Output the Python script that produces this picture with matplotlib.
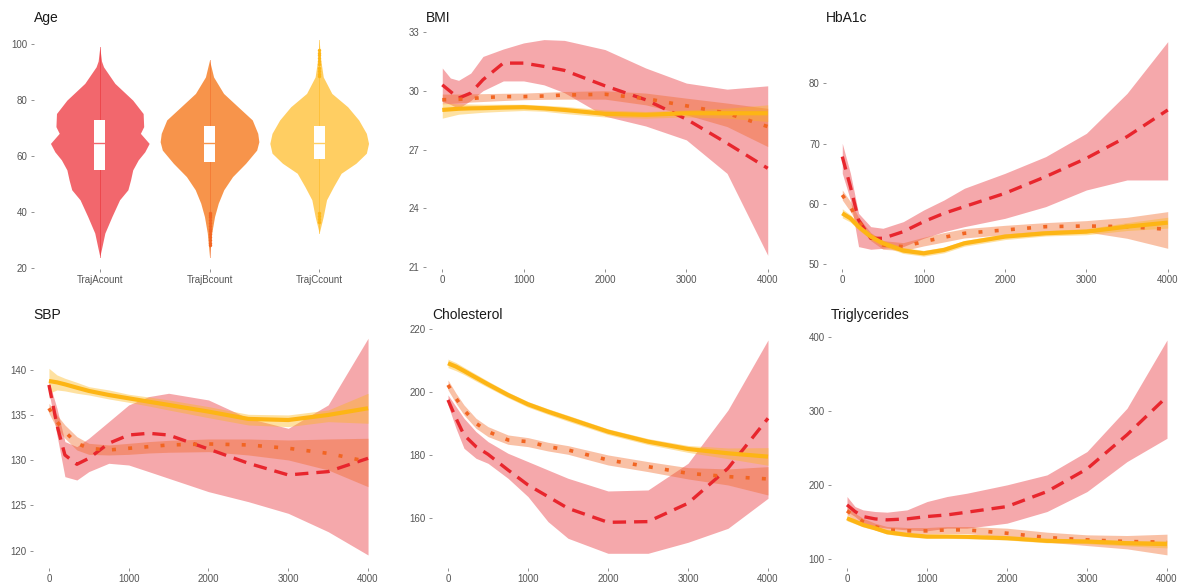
import matplotlib.pyplot as plt
import numpy as np

plt.rcParams['font.family'] = ['Liberation Sans', 'DejaVu Sans']

RED, ORANGE, YELLOW = '#E8262D', '#F26522', '#FDB515'
VIOLIN_FILL = ['#F2676D', '#F7944B', '#FFCE62']

# ---- Age violins ----
groups = ['TrajAcount', 'TrajBcount', 'TrajCcount']

age_a_y = [99.0, 94, 91.9, 86.0, 80.0, 75.2, 70.5, 68.1, 64.5, 61.5, 58.6, 55.0, 51.4, 47.9, 44.3, 38.3, 32.4, 27.6, 24.0]
age_a_w = [0, 0.015, 0.034, 0.137, 0.30, 0.395, 0.40, 0.37, 0.45, 0.41, 0.35, 0.30, 0.28, 0.256, 0.18, 0.11, 0.046, 0.02, 0]
age_b_y = [94.3, 88.3, 82.4, 77.6, 72.9, 68.1, 65.1, 62.1, 57.4, 52.6, 47.9, 43.1, 38.3, 32.4, 24.0]
age_b_w = [0, 0.037, 0.128, 0.26, 0.39, 0.44, 0.45, 0.43, 0.33, 0.21, 0.13, 0.08, 0.046, 0.02, 0]
age_c_y = [101.4, 95, 88.3, 82.4, 77.6, 72.9, 68.1, 64.5, 61.0, 57.4, 53.8, 49.0, 44.3, 38.3, 32.4]
age_c_w = [0, 0.012, 0.037, 0.115, 0.26, 0.36, 0.43, 0.45, 0.43, 0.335, 0.2, 0.13, 0.067, 0.037, 0]

age_q1 = [55.0, 58.0, 58.8]
age_med = [64.5, 64.8, 64.8]
age_q3 = [72.9, 70.7, 70.7]
age_out_b = [28, 29, 30, 31, 32, 33, 34, 35, 36, 37, 38, 39, 39.5]
age_out_c = [36.5, 37.5, 38.5, 39.5, 88.5, 89.5, 90.5, 91.5, 93, 94, 95, 96, 97, 98]

# ---- smooth trajectories ----
days = [0, 100, 200, 350, 500, 750, 1000, 1250, 1500, 2000, 2500, 3000, 3500, 4000]

bmi_a = [30.30, 29.96, 29.62, 29.88, 30.56, 31.41, 31.41, 31.24, 31.04, 30.25, 29.54, 28.55, 27.32, 26.04]
bmi_a_hi = [31.16, 30.65, 30.53, 30.90, 31.75, 32.13, 32.44, 32.61, 32.57, 32.10, 31.16, 30.39, 30.08, 30.25]
bmi_a_lo = [29.45, 29.3, 29.1, 29.5, 30.0, 30.5, 30.5, 30.3, 29.9, 28.7, 28.2, 27.49, 25.78, 21.6]
bmi_b = [29.54, 29.55, 29.56, 29.6, 29.65, 29.7, 29.7, 29.73, 29.78, 29.82, 29.6, 29.23, 28.85, 28.17]
bmi_b_hi = [29.83, 29.83, 29.83, 29.84, 29.85, 29.87, 29.88, 29.92, 29.96, 30.0, 29.88, 29.62, 29.37, 29.10]
bmi_b_lo = [29.33, 29.35, 29.38, 29.42, 29.45, 29.5, 29.54, 29.56, 29.57, 29.57, 29.28, 28.77, 28.17, 27.15]
bmi_c = [29.02, 29.05, 29.08, 29.1, 29.11, 29.14, 29.16, 29.1, 29.02, 28.82, 28.77, 28.85, 28.85, 28.85]
bmi_c_hi = [29.37, 29.35, 29.33, 29.32, 29.31, 29.31, 29.31, 29.26, 29.2, 29.02, 28.94, 29.02, 29.11, 29.28]
bmi_c_lo = [28.6, 28.7, 28.8, 28.85, 28.9, 28.95, 28.99, 28.95, 28.84, 28.66, 28.6, 28.66, 28.6, 28.43]

hba_a = [67.85, 62.87, 57.35, 54.31, 54.31, 55.41, 57.07, 58.45, 59.56, 61.77, 64.53, 67.57, 71.16, 75.58]
hba_a_hi = [70.06, 65.08, 58.45, 56.24, 55.97, 57.07, 59.0, 60.66, 62.6, 65.08, 67.85, 71.71, 78.34, 86.91]
hba_a_lo = [65.08, 60.66, 52.93, 52.49, 52.65, 52.93, 54.31, 55.41, 56.24, 57.62, 59.56, 62.32, 63.98, 63.98]
hba_b = [61.49, 59.56, 57.07, 54.59, 53.2, 52.93, 53.76, 54.48, 55.14, 55.69, 56.24, 56.35, 56.24, 55.8]
hba_b_hi = [62.32, 60.39, 57.79, 55.25, 53.92, 53.59, 54.48, 55.25, 55.91, 56.46, 56.91, 57.24, 57.79, 58.73]
hba_b_lo = [60.66, 58.73, 56.35, 53.92, 52.49, 52.27, 53.04, 53.7, 54.36, 54.92, 55.47, 55.36, 54.31, 52.65]
hba_c = [58.45, 57.62, 56.24, 54.59, 53.48, 52.27, 51.82, 52.38, 53.48, 54.59, 55.14, 55.41, 56.24, 56.91]
hba_c_hi = [59.2, 58.2, 56.8, 55.1, 54.0, 52.8, 52.3, 52.85, 53.95, 55.05, 55.6, 55.9, 56.9, 57.8]
hba_c_lo = [57.7, 57.0, 55.7, 54.1, 53.0, 51.8, 51.35, 51.9, 53.0, 54.1, 54.7, 54.9, 55.6, 56.0]

sbp_a = [138.34, 133.91, 130.59, 129.56, 130.22, 131.88, 132.80, 132.99, 132.80, 131.25, 129.67, 128.38, 128.75, 130.22]
sbp_a_hi = [138.71, 135.76, 132.07, 131.51, 132.44, 134.28, 136.13, 137.05, 137.42, 136.68, 134.65, 133.54, 136.13, 143.51]
sbp_a_lo = [137.60, 132.80, 128.19, 127.82, 128.75, 129.67, 129.48, 128.75, 128.01, 126.53, 125.42, 124.13, 122.10, 119.52]
sbp_b = [135.76, 134.28, 133.17, 131.88, 131.33, 131.14, 131.33, 131.51, 131.70, 131.81, 131.70, 131.33, 130.77, 129.85]
sbp_b_hi = [136.31, 135.02, 133.91, 132.62, 131.88, 131.70, 131.88, 132.07, 132.21, 132.36, 132.36, 132.25, 132.36, 132.44]
sbp_b_lo = [135.20, 133.54, 132.44, 131.14, 130.66, 130.59, 130.66, 130.81, 130.89, 130.96, 130.59, 130.04, 128.93, 127.08]
sbp_c = [138.78, 138.63, 138.41, 138.04, 137.68, 137.23, 136.86, 136.49, 136.13, 135.39, 134.58, 134.46, 135.02, 135.76]
sbp_c_hi = [140.18, 139.45, 139.08, 138.63, 138.15, 137.79, 137.31, 137.01, 136.68, 135.94, 135.09, 135.02, 135.57, 137.42]
sbp_c_lo = [137.42, 137.79, 137.68, 137.42, 137.23, 136.79, 136.42, 136.01, 135.57, 134.72, 133.91, 133.73, 134.28, 134.10]

chol_a = [197.5, 191.66, 186.35, 182.63, 180.19, 175.2, 170.42, 166.71, 162.99, 158.53, 158.75, 164.59, 175.73, 191.66]
chol_a_hi = [199.09, 195.37, 191.66, 187.41, 184.23, 180.51, 177.86, 175.2, 172.55, 168.51, 168.83, 177.32, 194.31, 216.6]
chol_a_lo = [195.9, 188.47, 182.1, 178.92, 177.32, 172.55, 166.71, 158.75, 153.44, 148.66, 148.66, 152.17, 156.62, 166.18]
chol_b = [202.27, 198.03, 194.31, 190.07, 187.41, 184.76, 184.23, 182.63, 181.57, 178.39, 176.26, 174.14, 173.08, 172.34]
chol_b_hi = [203.86, 199.62, 195.9, 191.66, 189.0, 186.35, 185.5, 184.01, 182.95, 179.98, 177.86, 175.94, 175.52, 176.26]
chol_b_lo = [200.68, 196.43, 192.72, 188.47, 185.82, 183.38, 182.63, 181.25, 180.19, 176.79, 174.67, 172.34, 170.42, 167.24]
chol_c = [209.17, 208.11, 206.73, 204.6, 202.48, 199.09, 196.11, 193.79, 191.66, 187.41, 184.23, 181.89, 180.51, 179.45]
chol_c_hi = [210.5, 209.4, 207.9, 205.7, 203.5, 200.0, 197.0, 194.7, 192.6, 188.3, 185.2, 183.0, 182.2, 182.3]
chol_c_lo = [207.8, 206.8, 205.6, 203.5, 201.5, 198.2, 195.2, 192.9, 190.7, 186.5, 183.3, 180.8, 178.8, 176.7]

trig_a = [173.1, 164.1, 157.3, 154.1, 152.8, 154.1, 157.3, 159.5, 163.2, 170.8, 191.1, 221.8, 268.0, 319.7]
trig_a_hi = [184.4, 170.8, 166.3, 164.1, 163.2, 166.3, 177.6, 184.4, 188.9, 200.2, 213.7, 245.3, 303.9, 396.4]
trig_a_lo = [164.1, 157.3, 148.3, 143.8, 141.5, 139.2, 137.9, 141.5, 141.5, 148.3, 164.1, 191.1, 231.7, 263.3]
trig_b = [165.0, 157.3, 150.5, 143.8, 139.2, 137.9, 137.9, 139.2, 139.2, 134.7, 128.9, 125.7, 123.5, 122.6]
trig_b_hi = [169.5, 161.8, 155.0, 148.3, 143.8, 142.4, 142.4, 143.8, 143.8, 141.5, 136.1, 132.5, 131.6, 133.4]
trig_b_lo = [159.6, 152.8, 146.0, 139.2, 135.2, 133.4, 133.4, 134.3, 134.3, 128.9, 122.6, 118.0, 113.5, 105.4]
trig_c = [155.0, 150.5, 146.0, 141.5, 136.1, 132.5, 130.2, 130.2, 129.8, 128.0, 124.4, 123.5, 121.2, 119.9]
trig_c_hi = [158.5, 153.5, 148.8, 144.2, 138.7, 135.0, 132.7, 132.7, 132.3, 130.5, 127.1, 126.5, 124.8, 125.0]
trig_c_lo = [151.5, 147.5, 143.2, 138.8, 133.5, 130.0, 127.7, 127.7, 127.3, 125.5, 121.7, 120.5, 117.6, 114.8]

W, H = 1184, 586
fig = plt.figure(figsize=(W / 100, H / 100), dpi=100)


def panel(left, right, top, bottom):
    return fig.add_axes([left / W, 1 - bottom / H, (right - left) / W, (bottom - top) / H])


def style(ax, title):
    for s in ax.spines.values():
        s.set_visible(False)
    ax.tick_params(length=2.5, width=0.6, color='#7F7F7F', labelcolor='#555555', labelsize=7, pad=2)
    ax.set_title(title, loc='left', fontsize=10, pad=6, color='#1A1A1A')


# Age panel
ax = panel(34, 385, 30, 269)
violins = [(age_a_y, age_a_w), (age_b_y, age_b_w), (age_c_y, age_c_w)]
for i, (vy, vw) in enumerate(violins):
    pos = i + 1
    vy, vw = np.array(vy), np.array(vw)
    ax.fill_betweenx(vy, pos - vw, pos + vw, color=VIOLIN_FILL[i], lw=0, zorder=1)
    ax.plot([pos, pos], [vy.min(), vy.max()], color=[RED, ORANGE, YELLOW][i], lw=0.7, alpha=0.5, zorder=2)
    ax.add_patch(plt.Rectangle((pos - 0.05, age_q1[i]), 0.1, age_q3[i] - age_q1[i],
                               facecolor='white', edgecolor='none', zorder=3))
    ax.plot([pos - 0.05, pos + 0.05], [age_med[i]] * 2, color=VIOLIN_FILL[i], lw=1, zorder=4)
ax.scatter([2] * len(age_out_b), age_out_b, s=6, color=ORANGE, lw=0, zorder=2)
ax.scatter([3] * len(age_out_c), age_out_c, s=6, color=YELLOW, lw=0, zorder=2)
ax.set_xlim(0.4, 3.6)
ax.set_ylim(19.53, 105.1)
ax.set_xticks([1, 2, 3])
ax.set_xticklabels(groups)
ax.set_yticks([20, 40, 60, 80, 100])
style(ax, 'Age')

smooth_panels = [
    ('BMI', (426, 784, 30, 269), (20.9, 33.1), [21, 24, 27, 30, 33],
     [(bmi_a, bmi_a_lo, bmi_a_hi), (bmi_b, bmi_b_lo, bmi_b_hi), (bmi_c, bmi_c_lo, bmi_c_hi)]),
    ('HbA1c', (826, 1184, 30, 269), (49.22, 88.84), [50, 60, 70, 80],
     [(hba_a, hba_a_lo, hba_a_hi), (hba_b, hba_b_lo, hba_b_hi), (hba_c, hba_c_lo, hba_c_hi)]),
    ('SBP', (33, 384, 327.5, 568), (118.08, 144.7), [120, 125, 130, 135, 140],
     [(sbp_a, sbp_a_lo, sbp_a_hi), (sbp_b, sbp_b_lo, sbp_b_hi), (sbp_c, sbp_c_lo, sbp_c_hi)]),
    ('Cholesterol', (432, 784, 327.5, 568), (143.98, 220.57), [160, 180, 200, 220],
     [(chol_a, chol_a_lo, chol_a_hi), (chol_b, chol_b_lo, chol_b_hi), (chol_c, chol_c_lo, chol_c_hi)]),
    ('Triglycerides', (831, 1183, 327.5, 568), (87.6, 413.3), [100, 200, 300, 400],
     [(trig_a, trig_a_lo, trig_a_hi), (trig_b, trig_b_lo, trig_b_hi), (trig_c, trig_c_lo, trig_c_hi)]),
]

line_styles = [
    dict(color=RED, lw=2.4, dashes=(4, 2.4), dash_capstyle='butt', solid_joinstyle='round'),
    dict(color=ORANGE, lw=2.6, dashes=(1.1, 3.4), dash_capstyle='butt'),
    dict(color=YELLOW, lw=3.0, solid_capstyle='butt', solid_joinstyle='round'),
]
band_colors = [RED, ORANGE, YELLOW]

for title, box, ylim, yticks, series in smooth_panels:
    ax = panel(*box)
    for (mid, lo, hi), bc in zip(series, band_colors):
        ax.fill_between(days, lo, hi, color=bc, alpha=0.4, lw=0, zorder=1)
    for (mid, lo, hi), ls in zip(series, line_styles):
        ax.plot(days, mid, zorder=3, **ls)
    ax.set_xlim(-200, 4200)
    ax.set_ylim(*ylim)
    ax.set_xticks([0, 1000, 2000, 3000, 4000])
    ax.set_yticks(yticks)
    style(ax, title)

fig.savefig('out.png', dpi=100, facecolor='white')
